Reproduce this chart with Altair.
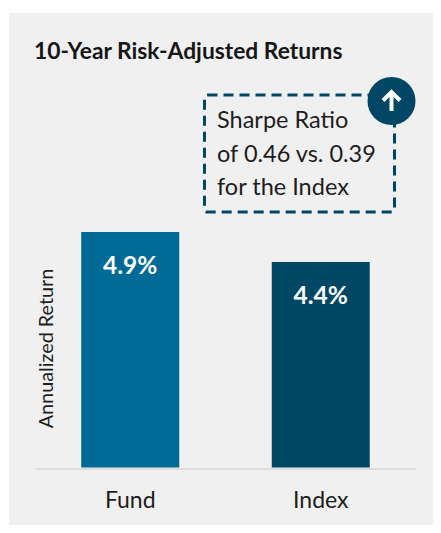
import altair as alt
import pandas as pd

categories = ["Fund", "Index"]
returns = [4.9, 4.4]
labels = ["4.9%", "4.4%"]
colors = ["#006a96", "#004766"]
baseline = 0.975
title_text = "10-Year Risk-Adjusted Returns"
note_lines = ["Sharpe Ratio", "of 0.46 vs. 0.39", "for the Index"]
FONT = "Lato"
INK = "#1d1d1d"
DARK = "#004766"

W, H = 381, 235.5
df = pd.DataFrame({"cat": categories, "ret": returns, "label": labels, "base": [baseline] * 2})

x = alt.X("cat:N", sort=categories, title=None,
          scale=alt.Scale(paddingInner=0.4856, paddingOuter=0.2428),
          axis=alt.Axis(labelAngle=0, labelFont=FONT, labelFontSize=23, labelColor=INK,
                        labelPadding=21, ticks=False, domainColor="#dcdcdc", domainWidth=2,
                        offset=1, zindex=1))
y = alt.Y("ret:Q", title="Annualized Return",
          scale=alt.Scale(domain=[baseline, 4.9], nice=False, zero=False),
          axis=alt.Axis(labels=False, ticks=False, domain=False, grid=False, zindex=1,
                        titleFont=FONT, titleFontSize=19.8, titleFontWeight="normal", titleColor=INK,
                        titleX=21, titleY=116))

panel = alt.Chart(df).mark_rect(color="#f0f0f0").encode(
    x=alt.value(-26), x2=alt.value(398), y=alt.value(-219), y2=alt.value(293))
bars = alt.Chart(df).mark_bar().encode(
    x=x, y=y, y2="base:Q",
    color=alt.Color("cat:N", scale=alt.Scale(domain=categories, range=colors), legend=None))
values = alt.Chart(df).mark_text(font=FONT, fontSize=24.5, fontWeight="bold", color="white",
                                 baseline="middle", dy=35).encode(
    x=alt.X("cat:N", sort=categories), y="ret:Q", text="label:N")
title = alt.Chart(df.head(1)).mark_text(font=FONT, fontSize=22.8, fontWeight="bold", color="#161616",
                                        align="left", baseline="middle").encode(
    x=alt.value(-1), y=alt.value(-180), text=alt.value(title_text))
box = alt.Chart(df.head(1)).mark_rect(fill=None, stroke=DARK, strokeWidth=3, strokeDash=[10, 6],
                                      cornerRadius=3).encode(
    x=alt.value(169.5), x2=alt.value(359.5), y=alt.value(-137), y2=alt.value(-20))
note_df = pd.DataFrame({"line": note_lines, "py": [-111, -77, -44]})
note = alt.Chart(note_df).mark_text(font=FONT, fontSize=23.5, color=INK, align="left",
                                    baseline="middle").encode(
    x=alt.value(182), y=alt.Y("py:Q", scale=None), text="line:N")
badge = alt.Chart(df.head(1)).mark_point(filled=True, color=DARK, size=2304, shape="circle", opacity=1).encode(
    x=alt.value(356.5), y=alt.value(-131))
arrow = alt.Chart(df.head(1)).mark_point(
    shape="M0,1 L0,-0.9 M-0.85,-0.05 L0,-0.9 L0.85,-0.05", filled=False, stroke="white",
    strokeWidth=4, size=400, opacity=1).encode(
    x=alt.value(356.5), y=alt.value(-131))

chart = alt.layer(panel, bars, values, title, box, note, badge, arrow).resolve_scale(
    y="shared").properties(
    width=W, height=H, padding={"left": 27, "top": 224, "right": 17, "bottom": 57.5},
    autosize=alt.AutoSizeParams(type="none"),
    background="white").configure_view(stroke=None)

chart.save("out.html", embed_options={"renderer": "svg", "actions": False})
